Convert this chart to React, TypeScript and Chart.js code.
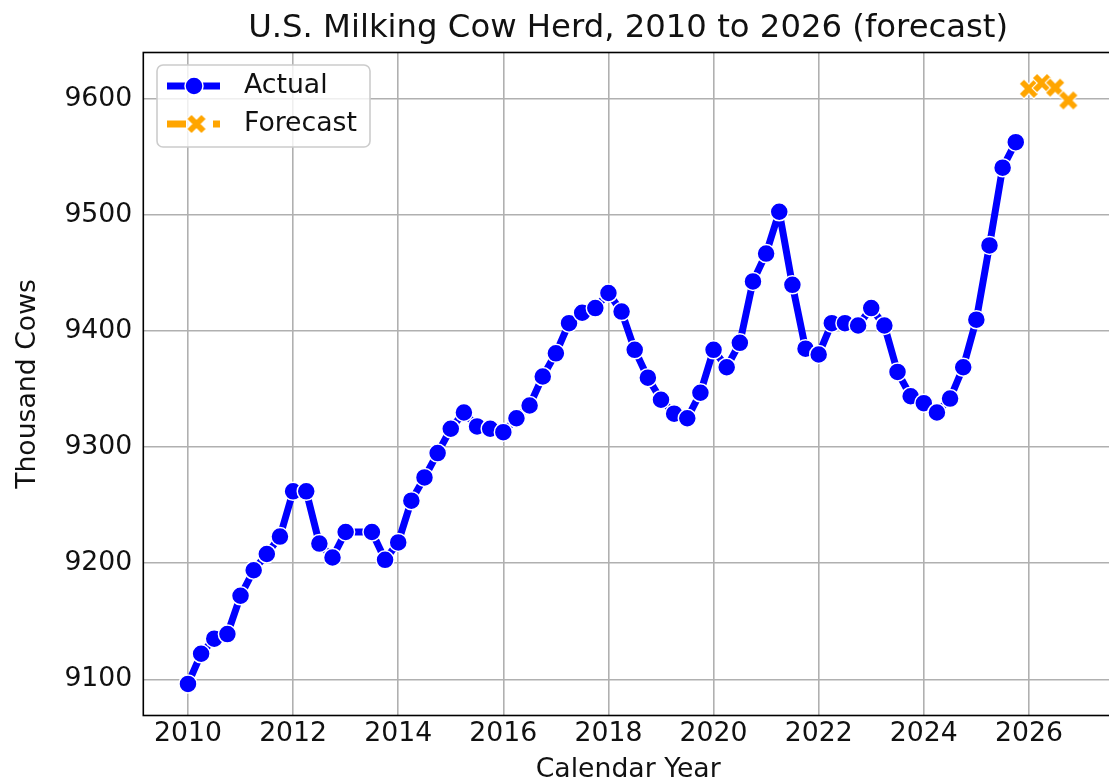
import React, { useEffect, useRef } from "react";
import { Chart, registerables } from "chart.js";

Chart.register(...registerables);

const TITLE = "U.S. Milking Cow Herd, 2010 to 2026 (forecast)";
const X_LABEL = "Calendar Year";
const Y_LABEL = "Thousand Cows";

const actualYears = [
  2010, 2010.25, 2010.5, 2010.75,
  2011, 2011.25, 2011.5, 2011.75,
  2012, 2012.25, 2012.5, 2012.75,
  2013, 2013.5, 2013.75,
  2014, 2014.25, 2014.5, 2014.75,
  2015, 2015.25, 2015.5, 2015.75,
  2016, 2016.25, 2016.5, 2016.75,
  2017, 2017.25, 2017.5, 2017.75,
  2018, 2018.25, 2018.5, 2018.75,
  2019, 2019.25, 2019.5, 2019.75,
  2020, 2020.25, 2020.5, 2020.75,
  2021, 2021.25, 2021.5, 2021.75,
  2022, 2022.25, 2022.5, 2022.75,
  2023, 2023.25, 2023.5, 2023.75,
  2024, 2024.25, 2024.5, 2024.75,
  2025, 2025.25, 2025.5, 2025.75,
];
const actualValues = [
  9096, 9122, 9135, 9139,
  9172, 9194, 9208, 9223,
  9262, 9262, 9217, 9205,
  9227, 9227, 9203,
  9218, 9254, 9274, 9295,
  9316, 9330, 9318, 9316,
  9313, 9325, 9336, 9361,
  9381, 9407, 9416, 9420,
  9433, 9417, 9384, 9360,
  9341, 9329, 9325, 9347,
  9384, 9369, 9390, 9443,
  9467, 9503, 9440, 9385,
  9380, 9407, 9407, 9405,
  9420, 9405, 9365, 9344,
  9338, 9330, 9342, 9369,
  9410, 9474, 9541, 9563,
];
const forecastYears = [2026, 2026.25, 2026.5, 2026.75];
const forecastValues = [9609, 9614, 9610, 9599];

const xTicks = [2010, 2012, 2014, 2016, 2018, 2020, 2022, 2024, 2026];
const yTicks = [9100, 9200, 9300, 9400, 9500, 9600];

const FONT = "'DejaVu Sans', sans-serif";
const BLUE = "#0000ff";
const ORANGE = "#ffa500";
const TEXT = "#111111";

function makeXMarker(): HTMLCanvasElement {
  const s = 26;
  const c = document.createElement("canvas");
  c.width = s;
  c.height = s;
  const ctx = c.getContext("2d")!;
  ctx.translate(s / 2, s / 2);
  const a = 7;
  const drawX = (w: number, color: string, ext: number) => {
    ctx.strokeStyle = color;
    ctx.lineWidth = w;
    ctx.lineCap = "butt";
    ctx.beginPath();
    ctx.moveTo(-a - ext, -a - ext);
    ctx.lineTo(a + ext, a + ext);
    ctx.moveTo(-a - ext, a + ext);
    ctx.lineTo(a + ext, -a - ext);
    ctx.stroke();
  };
  drawX(8, "#ffffff", 0.8);
  drawX(5.8, ORANGE, 0);
  return c;
}

export default function App() {
  const ref = useRef<HTMLCanvasElement | null>(null);

  useEffect(() => {
    if (!ref.current) return;
    const xMarker = makeXMarker();

    const overlay = {
      id: "overlay",
      afterDatasetsDraw(chart: any) {
        const { ctx, chartArea: ca } = chart;
        ctx.save();
        // spines
        ctx.strokeStyle = "#000000";
        ctx.lineWidth = 1.6;
        ctx.strokeRect(ca.left, ca.top, ca.right - ca.left, ca.bottom - ca.top);
        // title
        ctx.fillStyle = TEXT;
        ctx.font = `32.3px ${FONT}`;
        ctx.textAlign = "center";
        ctx.textBaseline = "alphabetic";
        ctx.fillText(TITLE, (ca.left + ca.right) / 2, 37);
        // legend box
        ctx.beginPath();
        (ctx as any).roundRect(157, 65, 213, 82, 6);
        ctx.fillStyle = "rgba(255,255,255,0.8)";
        ctx.fill();
        ctx.strokeStyle = "#cccccc";
        ctx.lineWidth = 1.6;
        ctx.stroke();
        // actual sample
        ctx.strokeStyle = BLUE;
        ctx.lineWidth = 7;
        ctx.beginPath();
        ctx.moveTo(167, 86);
        ctx.lineTo(220, 86);
        ctx.stroke();
        ctx.beginPath();
        ctx.arc(194, 86, 9, 0, Math.PI * 2);
        ctx.fillStyle = BLUE;
        ctx.fill();
        ctx.strokeStyle = "#ffffff";
        ctx.lineWidth = 1.5;
        ctx.stroke();
        // forecast sample
        ctx.strokeStyle = ORANGE;
        ctx.lineWidth = 7;
        ctx.beginPath();
        ctx.moveTo(167, 124);
        ctx.lineTo(186, 124);
        ctx.moveTo(213, 124);
        ctx.lineTo(220, 124);
        ctx.stroke();
        ctx.drawImage(xMarker, 196.5 - xMarker.width / 2, 124 - xMarker.height / 2);
        // legend text
        ctx.fillStyle = TEXT;
        ctx.font = `26.7px ${FONT}`;
        ctx.textAlign = "left";
        ctx.textBaseline = "middle";
        ctx.fillText("Actual", 244, 86);
        ctx.fillText("Forecast", 244, 124);
        ctx.restore();
      },
    };

    const chart = new Chart(ref.current, {
      type: "line",
      data: {
        datasets: [
          {
            label: "Actual",
            data: actualYears.map((x, i) => ({ x, y: actualValues[i] })),
            borderColor: BLUE,
            backgroundColor: BLUE,
            borderWidth: 7,
            borderJoinStyle: "round",
            pointRadius: 9,
            pointHoverRadius: 9,
            pointBackgroundColor: BLUE,
            pointBorderColor: "#ffffff",
            pointBorderWidth: 1.5,
            tension: 0,
            clip: false,
          },
          {
            label: "Forecast",
            data: forecastYears.map((x, i) => ({ x, y: forecastValues[i] })),
            borderColor: ORANGE,
            backgroundColor: ORANGE,
            borderWidth: 6,
            borderDash: [18, 8],
            pointStyle: xMarker as any,
            pointRadius: 9,
            pointHoverRadius: 9,
            tension: 0,
            clip: false,
          },
        ] as any,
      },
      options: {
        animation: false,
        responsive: true,
        maintainAspectRatio: false,
        devicePixelRatio: 1,
        events: [],
        layout: { autoPadding: false, padding: { top: 52.5, right: 7, left: 0, bottom: 0 } },
        plugins: {
          legend: { display: false },
          tooltip: { enabled: false },
          title: { display: false },
        },
        scales: {
          x: {
            type: "linear",
            min: 2009.15,
            max: 2027.6,
            afterBuildTicks: (s: any) => {
              s.ticks = xTicks.map((v) => ({ value: v }));
            },
            afterFit: (s: any) => {
              s.height = 783 - 715.5;
            },
            grid: { color: "#b0b0b0", lineWidth: 1.6, drawTicks: false },
            border: { display: false },
            ticks: {
              autoSkip: false,
              maxRotation: 0,
              padding: 3,
              color: TEXT,
              font: { family: FONT, size: 26.7 },
              callback: (v: any) => String(v),
            },
            title: {
              display: true,
              text: X_LABEL,
              color: TEXT,
              font: { family: FONT, size: 26.7, lineHeight: 1 },
              padding: { top: 0, bottom: 0 },
            },
          },
          y: {
            type: "linear",
            min: 9068.8,
            max: 9640.3,
            afterBuildTicks: (s: any) => {
              s.ticks = yTicks.map((v) => ({ value: v }));
            },
            afterFit: (s: any) => {
              s.width = 143.3;
            },
            grid: { color: "#b0b0b0", lineWidth: 1.6, drawTicks: false },
            border: { display: false },
            ticks: {
              padding: 11,
              color: TEXT,
              font: { family: FONT, size: 26.7 },
              callback: (v: any) => String(v),
            },
            title: {
              display: true,
              text: Y_LABEL,
              color: TEXT,
              font: { family: FONT, size: 26.7, lineHeight: 1 },
              padding: { top: 15, bottom: 0 },
            },
          },
        },
      } as any,
      plugins: [overlay],
    });

    return () => chart.destroy();
  }, []);

  return (
    <div
      style={{
        position: "absolute",
        left: 0,
        top: 0,
        width: 1109,
        height: 783,
        overflow: "hidden",
        background: "#ffffff",
      }}
    >
      <div style={{ position: "relative", width: 1120, height: 783 }}>
        <canvas ref={ref} />
      </div>
    </div>
  );
}
